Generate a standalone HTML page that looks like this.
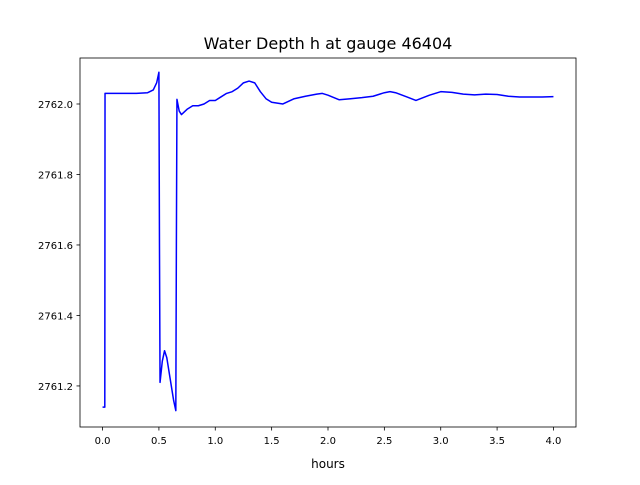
<!DOCTYPE html>
<html><head><meta charset="utf-8"><style>
body{margin:0;background:#fff;font-family:"Liberation Sans","DejaVu Sans",sans-serif}
svg text{font-family:"DejaVu Sans","Liberation Sans",sans-serif;fill:#000}
</style></head><body>
<svg id="chart" width="640" height="480" xmlns="http://www.w3.org/2000/svg">
<rect width="640" height="480" fill="#fff"/>
<text x="328" y="49" font-size="16" text-anchor="middle">Water Depth h at gauge 46404</text>
<g id="axes"></g>
<text x="328" y="468" font-size="12" text-anchor="middle">hours</text>
</svg>
<script>
const times=[0,0.02,0.022,0.1,0.2,0.3,0.4,0.45,0.48,0.5,0.505,0.51,0.53,0.55,0.57,0.6,0.63,0.65,0.655,0.66,0.68,0.7,0.75,0.8,0.85,0.9,0.95,1.0,1.05,1.1,1.15,1.2,1.25,1.3,1.35,1.4,1.45,1.5,1.6,1.7,1.8,1.9,1.95,2.0,2.1,2.2,2.3,2.4,2.5,2.55,2.6,2.7,2.78,2.9,3.0,3.1,3.2,3.3,3.4,3.5,3.6,3.7,3.8,3.9,4.0];
const depth=[2761.14,2761.14,2762.03,2762.03,2762.03,2762.03,2762.032,2762.04,2762.06,2762.09,2761.6,2761.21,2761.27,2761.30,2761.28,2761.22,2761.16,2761.13,2761.6,2762.013,2761.98,2761.97,2761.985,2761.995,2761.995,2762.0,2762.01,2762.01,2762.02,2762.03,2762.035,2762.045,2762.06,2762.065,2762.06,2762.035,2762.015,2762.005,2762.0,2762.015,2762.022,2762.028,2762.03,2762.025,2762.012,2762.015,2762.018,2762.022,2762.032,2762.035,2762.032,2762.02,2762.01,2762.025,2762.035,2762.033,2762.028,2762.026,2762.028,2762.027,2762.022,2762.02,2762.02,2762.02,2762.021];
const xTicks=[0.0,0.5,1.0,1.5,2.0,2.5,3.0,3.5,4.0];
const yTicks=[2761.2,2761.4,2761.6,2761.8,2762.0];
const L=80,R=576,T=58,B=427,x0=-0.2,x1=4.2,y0=2761.0835,y1=2762.1305;
const X=v=>L+(v-x0)/(x1-x0)*(R-L);
const Y=v=>B-(v-y0)/(y1-y0)*(B-T);
const ns="http://www.w3.org/2000/svg",g=document.getElementById('axes');
function mk(t,a){const e=document.createElementNS(ns,t);for(const k in a)e.setAttribute(k,a[k]);g.appendChild(e);return e;}
const p=mk('polyline',{points:times.map((t,i)=>X(t).toFixed(2)+','+Y(depth[i]).toFixed(2)).join(' '),fill:'none',stroke:'#0000ff','stroke-width':1.5,'stroke-linejoin':'round'});


const fr=mk('rect',{x:L,y:T,width:R-L,height:B-T,fill:'none',stroke:'#000','stroke-width':0.8});


xTicks.forEach(v=>{const l=mk('line',{x1:X(v),x2:X(v),y1:B,y2:B+3.5,stroke:'#000','stroke-width':0.8});


const t=mk('text',{x:X(v),y:B+17,'font-size':10,'text-anchor':'middle'});t.textContent=v.toFixed(1);

});
yTicks.forEach(v=>{const l=mk('line',{x1:L-3.5,x2:L,y1:Y(v),y2:Y(v),stroke:'#000','stroke-width':0.8});


const t=mk('text',{x:L-7,y:Y(v)+4,'font-size':10,'text-anchor':'end'});t.textContent=v.toFixed(1);

});
</script>
</body></html>
